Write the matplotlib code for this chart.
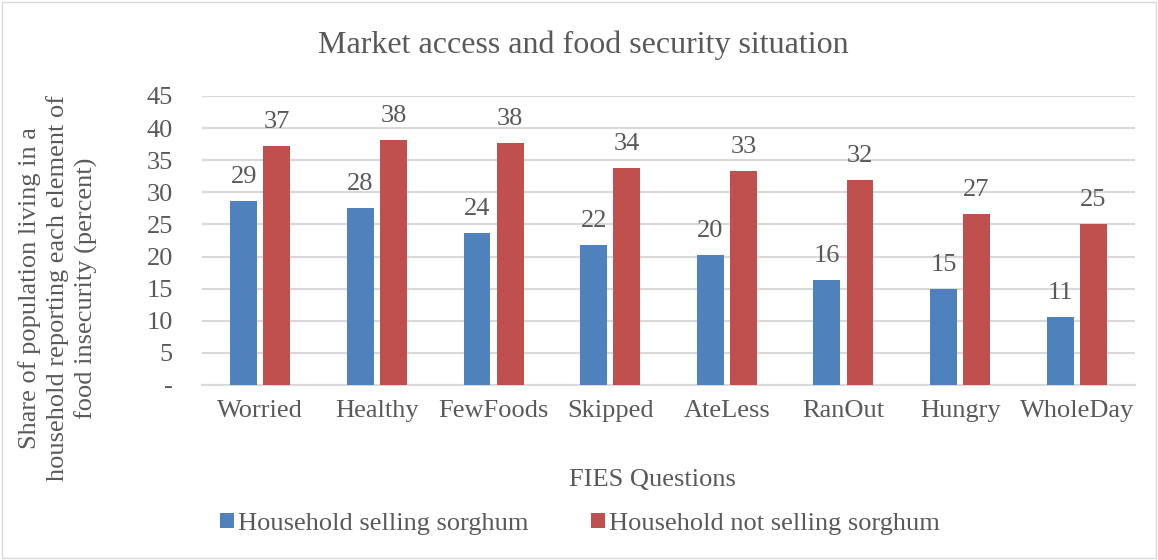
import numpy as np
import matplotlib.pyplot as plt
from matplotlib.patches import Rectangle

plt.rcParams['font.family'] = ['Liberation Serif', 'DejaVu Serif']

questions = ['Worried', 'Healthy', 'FewFoods', 'Skipped', 'AteLess',
             'RanOut', 'Hungry', 'WholeDay']
selling = [28.6, 27.6, 23.7, 21.8, 20.3, 16.4, 14.9, 10.6]
not_selling = [37.2, 38.2, 37.7, 33.8, 33.3, 31.9, 26.6, 25.1]
yticks = [0, 5, 10, 15, 20, 25, 30, 35, 40, 45]
ytick_labels = ['-', '5', '10', '15', '20', '25', '30', '35', '40', '45']

blue = '#4F81BD'
red = '#C0504D'
txt = '#595959'
fs = 19

fig = plt.figure(figsize=(11.58, 5.6), dpi=100)
ax = fig.add_axes([202 / 1158, 1 - 385 / 560, 933 / 1158, 289 / 560])

x = np.arange(len(questions))
w = 0.23
off = 0.142
b1 = ax.bar(x - off, selling, w, color=blue, label='Household selling sorghum', zorder=3)
b2 = ax.bar(x + off, not_selling, w, color=red, label='Household not selling sorghum', zorder=3)

for bars, vals in ((b1, selling), (b2, not_selling)):
    for b, v in zip(bars, vals):
        ax.annotate(f'{v:.0f}', (b.get_x() + b.get_width() / 2, v),
                    xytext=(0, 13), textcoords='offset points',
                    ha='center', va='baseline', fontsize=fs, color=txt)

ax.set_xlim(-0.5, len(questions) - 0.5)
ax.set_ylim(0, 45)
ax.set_yticks(yticks)
ax.set_yticklabels(ytick_labels)
ax.set_xticks(x)
ax.set_xticklabels(questions)
ax.tick_params(axis='both', length=0, labelsize=fs, colors=txt)
ax.tick_params(axis='y', pad=21)
ax.tick_params(axis='x', pad=11)
ax.grid(axis='y', color='#D9D9D9', linewidth=1.5, zorder=0)
for s in ['top', 'right', 'left']:
    ax.spines[s].set_visible(False)
ax.spines['bottom'].set_color('#D9D9D9')
ax.spines['bottom'].set_linewidth(1.5)

fig.text(583 / 1158, 1 - 45 / 560, 'Market access and food security situation',
         ha='center', va='center', fontsize=23, color=txt)
fig.text(652 / 1158, 1 - 480 / 560, 'FIES Questions',
         ha='center', va='center', fontsize=fs, color=txt)
fig.text(58 / 1158, 1 - 288 / 560,
         'Share of population living in a\nhousehold reporting each element of\nfood insecurity (percent)',
         ha='center', va='center', rotation=90, fontsize=fs, color=txt,
         linespacing=1.32)

leg = fig.legend(loc='center', bbox_to_anchor=(580 / 1158, 1 - 524 / 560), ncol=2,
                 frameon=False, fontsize=fs, handlelength=0.53, handleheight=0.53,
                 handletextpad=0.15, columnspacing=2.35, borderpad=0, borderaxespad=0)
for t in leg.get_texts():
    t.set_color(txt)

fig.patches.append(Rectangle((0.002, 0.003), 0.996, 0.994, transform=fig.transFigure,
                             fill=False, edgecolor='#D9D9D9', linewidth=1))

fig.savefig('out.png', dpi=100)
